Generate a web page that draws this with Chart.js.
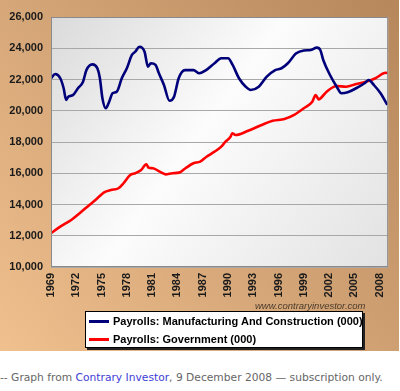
<!DOCTYPE html>
<html>
<head>
<meta charset="utf-8">
<script src="https://cdn.jsdelivr.net/npm/chart.js@4.4.0/dist/chart.umd.min.js"></script>
<style>
  html, body { margin: 0; padding: 0; background: #fff; width: 400px; height: 391px; overflow: hidden; }
  #wrap { position: absolute; left: 0; top: 0; width: 399px; height: 351px; }
  #legend {
    position: absolute; left: 85px; top: 311px; width: 276px; height: 35px;
    background: #fff; border: 1px solid #000; box-shadow: 2px 2px 0 #222;
    font: bold 11px "Liberation Sans", Arial, sans-serif; color: #000;
  }
  .item { position: absolute; left: 3px; height: 14px; line-height: 14px; white-space: nowrap; }
  .item i { display: inline-block; width: 20px; height: 3px; vertical-align: middle; margin-right: 4px; position: relative; top: -1px; }
  #mark {
    position: absolute; left: 255px; top: 300px;
    font: italic 9.5px "Liberation Sans", Arial, sans-serif; color: #4a3a2a; white-space: nowrap;
  }
  #caption {
    position: absolute; left: 0; top: 371px; white-space: nowrap;
    font: 10.7px "DejaVu Sans", Verdana, sans-serif; color: #666;
  }
  #caption a { color: #3d3dd6; text-decoration: none; }
</style>
</head>
<body>
<div id="wrap"><canvas id="c" width="399" height="351"></canvas></div>
<div id="mark">www.contraryinvestor.com</div>
<div id="legend"></div>
<div id="caption">-- Graph from <a>Contrary Investor</a>, 9 December 2008 — subscription only.</div>
<script>
// series names
const mfgName = "Payrolls: Manufacturing And Construction (000)";
const govName = "Payrolls: Government (000)";

// Manufacturing + construction payrolls (thousands)
const mfgYears = [1969.0, 1969.5, 1970.1, 1970.5, 1970.8, 1971.05, 1971.6, 1972.2, 1972.8, 1973.2,
  1973.9, 1974.5, 1974.8, 1975.1, 1975.5, 1975.9, 1976.3, 1976.8, 1977.4, 1978.0, 1978.6, 1979.0,
  1979.5, 1980.1, 1980.5, 1980.85, 1981.4, 1981.8, 1982.4, 1983.05, 1983.6, 1984.15, 1984.9,
  1985.9, 1986.6, 1987.4, 1988.4, 1989.2, 1990.0, 1990.55, 1991.3, 1992.1, 1992.7, 1993.65,
  1994.6, 1995.6, 1996.35, 1997.1, 1998.1, 1999.0, 1999.8, 2000.55, 2000.95, 2001.3, 2002.1,
  2002.9, 2003.45, 2004.2, 2005.2, 2006.2, 2006.7, 2007.3, 2008.1, 2008.9];
const mfgValues = [22080, 22350, 22080, 21440, 20690, 20900, 21000, 21440, 21860, 22600,
  22970, 22720, 22080, 20800, 20160, 20580, 21120, 21220, 22080, 22720, 23570, 23780,
  24100, 23780, 22820, 23040, 22930, 22400, 21650, 20640, 20900, 22080, 22600,
  22600, 22400, 22600, 23040, 23360, 23360, 22930, 22080, 21540, 21330, 21540,
  22180, 22600, 22720, 23040, 23680, 23860, 23890, 24040, 23890, 23250, 22290,
  21540, 21120, 21180, 21440, 21760, 21970, 21650, 21120, 20370];

// Government payrolls (thousands)
const govYears = [1969.0, 1970.1, 1971.4, 1972.4, 1973.55, 1974.5, 1975.3, 1976.1, 1977.0, 1977.6,
  1978.4, 1979.0, 1979.7, 1980.3, 1980.6, 1981.1, 1981.9, 1982.6, 1983.4, 1984.2, 1984.95,
  1985.9, 1986.7, 1987.45, 1988.4, 1989.2, 1989.7, 1990.3, 1990.5, 1990.9, 1992.4, 1994.0,
  1995.3, 1996.7, 1997.85, 1999.0, 2000.0, 2000.4, 2000.75, 2001.7, 2002.9, 2004.0, 2005.2,
  2006.35, 2007.5, 2008.7, 2008.95];
const govValues = [12160, 12580, 13010, 13440, 13970, 14400, 14780, 14930, 15040, 15360,
  15890, 16000, 16210, 16570, 16350, 16320, 16100, 15930, 16000, 16040, 16320,
  16640, 16740, 17060, 17380, 17700, 18020, 18340, 18560, 18450, 18720, 19090,
  19360, 19470, 19730, 20160, 20580, 21010, 20730, 21220, 21580, 21540, 21710,
  21860, 22080, 22430, 22400];

const tickYears = [1969, 1972, 1975, 1978, 1981, 1984, 1987, 1990, 1993, 1996, 1999, 2002, 2005, 2008];

const toPoints = (xs, ys) => xs.map((x, i) => ({ x, y: ys[i] }));

// tan frame + grey plot panel
const backdrop = {
  id: "backdrop",
  beforeDraw(chart) {
    const { ctx, width, height, chartArea: a } = chart;
    ctx.save();
    const g = ctx.createLinearGradient(0, height, width, 0);
    g.addColorStop(0, "#f0c08e");
    g.addColorStop(0.5, "#d2a375");
    g.addColorStop(1, "#b6875b");
    ctx.fillStyle = g;
    ctx.fillRect(0, 0, width, height);
    const p = ctx.createLinearGradient(a.left, a.top, a.right, a.bottom);
    p.addColorStop(0, "#dadada");
    p.addColorStop(0.45, "#fcfcfc");
    p.addColorStop(1, "#e2e2e2");
    ctx.fillStyle = p;
    ctx.fillRect(a.left, a.top, a.right - a.left, a.bottom - a.top);
    ctx.restore();
  },
  afterDatasetsDraw(chart) {
    const { ctx, chartArea: a } = chart;
    ctx.save();
    ctx.strokeStyle = "#8a8a8a";
    ctx.lineWidth = 1;
    ctx.strokeRect(a.left + 0.5, a.top + 0.5, a.right - a.left - 1, a.bottom - a.top - 1);
    ctx.restore();
  }
};

const tickFont = { family: '"Liberation Sans", Arial, sans-serif', size: 11, weight: "bold" };

new Chart(document.getElementById("c"), {
  type: "line",
  data: {
    datasets: [
      { label: mfgName, data: toPoints(mfgYears, mfgValues), borderColor: "#00007a", borderWidth: 2.6,
        pointRadius: 0, cubicInterpolationMode: "monotone" },
      { label: govName, data: toPoints(govYears, govValues), borderColor: "#ff0000", borderWidth: 2.6,
        pointRadius: 0, cubicInterpolationMode: "monotone" }
    ]
  },
  options: {
    responsive: false,
    animation: false,
    layout: { padding: { top: 17, right: 3, left: 0, bottom: 0 } },
    plugins: { legend: { display: false }, tooltip: { enabled: false } },
    scales: {
      x: {
        type: "linear", min: 1969, max: 2009,
        afterBuildTicks: s => { s.ticks = tickYears.map(v => ({ value: v })); },
        afterFit: s => { s.height = 84; },
        grid: { display: false, drawTicks: false },
        border: { display: false },
        ticks: { font: tickFont, color: "#1a1a1a", padding: 6, minRotation: 90, maxRotation: 90,
          autoSkip: false, callback: v => String(v) }
      },
      y: {
        min: 10000, max: 26000,
        afterFit: s => { s.width = 51; },
        grid: { color: "#a8a8a8", lineWidth: 1, drawTicks: false },
        border: { display: false },
        ticks: { stepSize: 2000, font: tickFont, color: "#1a1a1a", padding: 8,
          callback: v => v.toLocaleString("en-US") }
      }
    }
  },
  plugins: [backdrop]
});

// legend box
const legend = document.getElementById("legend");
[[mfgName, "#00007a", 2], [govName, "#ff0000", 20]].forEach(([name, col, top]) => {
  const d = document.createElement("div");
  d.className = "item";
  d.style.top = top + "px";
  d.innerHTML = '<i style="background:' + col + '"></i>' + name;
  legend.appendChild(d);
});
</script>
</body>
</html>
